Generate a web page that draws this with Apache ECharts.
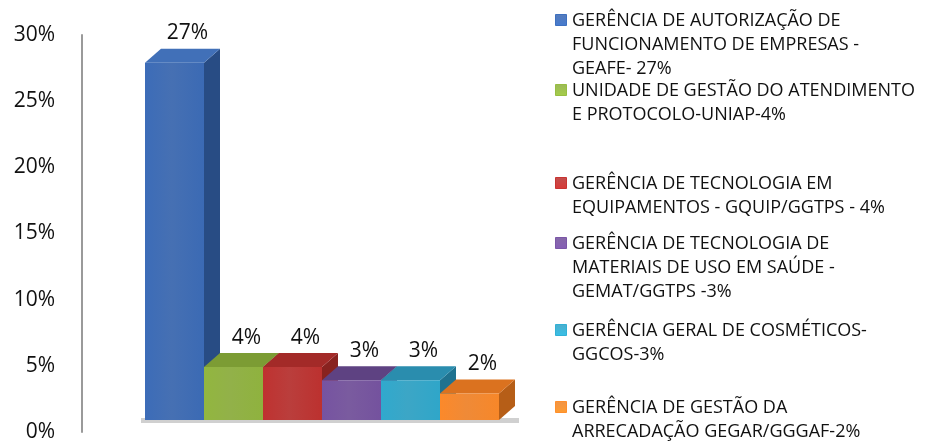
<!doctype html>
<html lang="pt">
<head>
    <meta charset="UTF-8">
    <title>Gerências</title>
    <script src="https://cdn.jsdelivr.net/npm/echarts@6/dist/echarts.min.js"></script>
    <style>
        html, body { margin: 0; padding: 0; background: #fff; }
        #main { width: 929px; height: 444px; }
    </style>
</head>
<body>
<div id="main"></div>
<script type="text/javascript">
    // dados
    var categories = ['GEAFE', 'UNIAP', 'GQUIP', 'GEMAT', 'GGCOS', 'GEGAR'];
    var values = [27, 4, 4, 3, 3, 2];
    var yTicks = [0, 5, 10, 15, 20, 25, 30];
    var legendNames = [
        'GERÊNCIA DE AUTORIZAÇÃO DE\nFUNCIONAMENTO DE EMPRESAS -\nGEAFE- 27%',
        'UNIDADE DE GESTÃO DO ATENDIMENTO\nE PROTOCOLO-UNIAP-4%',
        'GERÊNCIA DE TECNOLOGIA EM\nEQUIPAMENTOS - GQUIP/GGTPS - 4%',
        'GERÊNCIA DE TECNOLOGIA DE\nMATERIAIS DE USO EM SAÚDE -\nGEMAT/GGTPS -3%',
        'GERÊNCIA GERAL DE COSMÉTICOS-\nGGCOS-3%',
        'GERÊNCIA DE GESTÃO DA\nARRECADAÇÃO GEGAR/GGGAF-2%'
    ];

    // cores: frente, topo, lateral
    var palette = [
        ['#3966AE', '#4170B8', '#284C84'],
        ['#8AAC3C', '#7C9C34', '#617F29'],
        ['#B5302E', '#A32A28', '#88221F'],
        ['#704F98', '#5E4282', '#4D346D'],
        ['#2EA0C2', '#2A8DAE', '#1F728F'],
        ['#EE8228', '#DB721F', '#B65E17']
    ];

    var FONT = '"Open Sans", sans-serif';
    var DX = 16, DY = 14, LIFT = 12;

    function frontGrad(c) {
        return new echarts.graphic.LinearGradient(0, 0, 1, 0, [
            {offset: 0, color: echarts.color.lift(c, -0.06)},
            {offset: 0.45, color: echarts.color.lift(c, 0.07)},
            {offset: 1, color: echarts.color.lift(c, -0.04)}
        ]);
    }

    // sombra no chão, contínua sob todas as barras
    function renderShadow(params, api) {
        var i = api.value(0);
        var base = api.coord([i, 0]);
        var w = api.size([1, 0])[0];
        var x0 = base[0] - w / 2;
        var yb = base[1] - LIFT;
        var first = params.dataIndex === 0;
        var last = params.dataIndex === values.length - 1;
        var left = first ? x0 - 4 : x0;
        var right = last ? x0 + w + DX + 4 : x0 + w;
        return {
            type: 'rect',
            shape: {x: left, y: yb - 2, width: right - left, height: 5},
            style: {fill: 'rgba(170,170,170,0.55)'}
        };
    }

    function renderItem(params, api) {
        var i = api.value(0), v = api.value(1);
        var base = api.coord([i, 0]);
        var top = api.coord([i, v]);
        var w = api.size([1, 0])[0];
        var x0 = base[0] - w / 2, x1 = base[0] + w / 2;
        var yb = base[1] - LIFT, yt = top[1] - LIFT;
        var c = palette[i];
        return {
            type: 'group',
            children: [
                {
                    type: 'polygon',
                    shape: {points: [[x1, yt], [x1 + DX, yt - DY], [x1 + DX, yb - DY], [x1, yb]]},
                    style: {fill: c[2]}
                },
                {
                    type: 'polygon',
                    shape: {points: [[x0, yt], [x1, yt], [x1 + DX, yt - DY], [x0 + DX, yt - DY]]},
                    style: {fill: c[1]}
                },
                {
                    type: 'rect',
                    shape: {x: x0, y: yt, width: w, height: yb - yt},
                    style: {fill: frontGrad(c[0])}
                },
                {
                    type: 'text',
                    style: {
                        text: v + '%',
                        x: base[0] + 13, y: yt - DY - 5,
                        align: 'center', verticalAlign: 'bottom',
                        font: '21px ' + FONT, fill: '#111'
                    }
                }
            ]
        };
    }

    var legendTops = [19, 89, 182, 242, 329, 406];
    var graphics = [];
    legendNames.forEach(function (name, i) {
        var c = palette[i];
        graphics.push({
            type: 'rect',
            left: 555, top: legendTops[i] - 5,
            shape: {width: 11, height: 11},
            style: {
                fill: new echarts.graphic.LinearGradient(0, 0, 0, 1, [
                    {offset: 0, color: echarts.color.lift(c[0], 0.15)},
                    {offset: 1, color: echarts.color.lift(c[0], -0.2)}
                ]),
                stroke: echarts.color.lift(c[0], -0.1), lineWidth: 1
            }
        });
        graphics.push({
            type: 'text',
            left: 572, top: legendTops[i] - 10,
            style: {text: name, font: '18px ' + FONT, fill: '#111', lineHeight: 24}
        });
    });

    var myChart = echarts.init(document.getElementById('main'));
    var option = {
        backgroundColor: '#fff',
        animation: false,
        grid: {left: 145, right: 430, top: 35, bottom: 12},
        xAxis: {
            type: 'category',
            data: categories,
            axisLine: {show: false},
            axisTick: {show: false},
            axisLabel: {show: false}
        },
        yAxis: {
            type: 'value',
            min: yTicks[0],
            max: yTicks[yTicks.length - 1],
            interval: 5,
            offset: 63,
            axisLine: {show: true, lineStyle: {color: '#9a9a9a', width: 2}},
            axisTick: {show: false},
            splitLine: {show: false},
            axisLabel: {
                formatter: '{value}%',
                margin: 27,
                fontSize: 21,
                fontFamily: FONT,
                color: '#111'
            }
        },
        graphic: graphics,
        series: [{
            type: 'custom',
            z: 1,
            renderItem: renderShadow,
            data: values.map(function (v, i) { return [i, v]; })
        }, {
            type: 'custom',
            z: 2,
            renderItem: renderItem,
            data: values.map(function (v, i) { return [i, v]; })
        }]
    };
    myChart.setOption(option);
</script>
</body>
</html>
